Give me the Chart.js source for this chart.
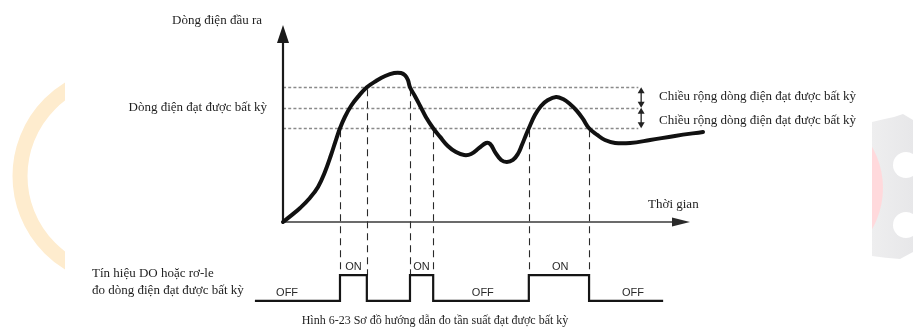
<!DOCTYPE html>
<html lang="vi">
<head>
<meta charset="utf-8">
<title>Hình 6-23</title>
<script src="https://cdn.jsdelivr.net/npm/chart.js@4/dist/chart.umd.min.js"></script>
<style>
  html, body { margin: 0; padding: 0; background: #ffffff; }
  canvas { display: block; }
</style>
</head>
<body>
<canvas id="chart" width="913" height="328"></canvas>
<script>
// Output current over time (time and current in arbitrary units)
const timeSteps = [0, 2.2, 4.2, 6.6, 8.6, 10.3, 11.8, 13.0, 14.0, 15.2, 16.7, 18.4, 20.6, 22.9, 25.1, 27.3,
  29.0, 30.0, 30.7, 31.2, 32.4, 33.7, 35.1, 36.9, 38.6, 40.5, 42.5, 44.5, 46.2, 48.2, 49.9, 50.9, 52.1,
  53.6, 55.0, 56.5, 57.7, 58.7, 59.7, 60.4, 61.9, 63.4, 65.1, 67.1, 68.8, 70.5, 72.2, 73.7, 75.2, 77.2,
  79.1, 81.6, 85.3, 90.2, 96.3, 103.2];
const outputCurrent = [0, 3.6, 7.1, 12.2, 17.8, 25.4, 34.0, 41.6, 47.6, 53.3, 58.9, 63.5, 68.4, 71.6, 74.1, 75.6,
  75.6, 74.4, 72.1, 68.4, 64.0, 58.9, 53.3, 47.6, 43.2, 38.6, 35.5, 34.0, 34.5, 37.6, 40.1, 39.6, 35.5,
  31.5, 30.5, 31.5, 34.5, 39.1, 44.2, 47.6, 54.3, 58.9, 61.9, 63.5, 62.4, 59.9, 56.4, 52.3, 47.6, 44.2,
  41.6, 40.1, 40.1, 41.6, 43.7, 45.7];

// Arbitrary reach current and its detection width
const reachLevel = 58;
const reachWidth = 10.4;

// Moments the output switches, and the band edge crossed at each moment
const switchTimes = [14.0, 20.6, 31.2, 36.9, 60.4, 75.2];
const switchEdges = [reachLevel - reachWidth, reachLevel + reachWidth, reachLevel + reachWidth,
  reachLevel - reachWidth, reachLevel - reachWidth, reachLevel - reachWidth];
const signalStart = -6.9;
const signalEnd = 93.4;
const signalOn = -27;
const signalOff = -40;

// State labels on the DO / relay trace
const stateLabels = ['OFF', 'ON', 'ON', 'OFF', 'ON', 'OFF'];
const stateLabelTimes = [1.0, 17.3, 34.0, 49.1, 68.1, 86.0];

// Texts
const yAxisTitle = 'Dòng điện đầu ra';
const xAxisTitle = 'Thời gian';
const reachLabel = 'Dòng điện đạt được bất kỳ';
const widthLabel = 'Chiều rộng dòng điện đạt được bất kỳ';
const signalLabel = ['Tín hiệu DO hoặc rơ-le', 'đo dòng điện đạt được bất kỳ'];
const caption = 'Hình 6-23 Sơ đồ hướng dẫn đo tần suất đạt được bất kỳ';

const widthArrowTime = 88.0;

// Build the point lists the library plots
const curvePoints = timeSteps.map((t, i) => ({ x: t, y: outputCurrent[i] }));
const signalPoints = [{ x: signalStart, y: signalOff }];
switchTimes.forEach((t, i) => signalPoints.push({ x: t, y: i % 2 === 0 ? signalOn : signalOff }));
signalPoints.push({ x: signalEnd, y: signalOff });

const SERIF = '"Liberation Serif", "Times New Roman", "DejaVu Serif", serif';
const SANS = '"Liberation Sans", Arial, "DejaVu Sans", sans-serif';

function drawLine(ctx, x1, y1, x2, y2) {
  ctx.beginPath();
  ctx.moveTo(x1, y1);
  ctx.lineTo(x2, y2);
  ctx.stroke();
}

function drawHead(ctx, tipX, tipY, dx, dy, len, half) {
  // filled triangle pointing in direction (dx, dy)
  const px = -dy, py = dx;
  ctx.beginPath();
  ctx.moveTo(tipX, tipY);
  ctx.lineTo(tipX - dx * len + px * half, tipY - dy * len + py * half);
  ctx.lineTo(tipX - dx * len - px * half, tipY - dy * len - py * half);
  ctx.closePath();
  ctx.fill();
}

const diagramPlugin = {
  id: 'diagram',
  beforeDraw(chart) {
    // faint company logo in the page background
    const ctx = chart.ctx;
    const W = chart.width;
    ctx.save();
    // orange ring on the left edge
    ctx.beginPath();
    ctx.rect(0, 0, 65, chart.height);
    ctx.clip();
    ctx.strokeStyle = '#feecce';
    ctx.lineWidth = 15;
    ctx.beginPath();
    ctx.arc(122, 176, 102, 0, Math.PI * 2);
    ctx.stroke();
    ctx.restore();

    // grey gear with a pink ring on the right edge
    ctx.save();
    ctx.beginPath();
    ctx.rect(872, 0, W - 872, chart.height);
    ctx.clip();
    const g = ctx.createLinearGradient(872, 0, W, 0);
    g.addColorStop(0, '#eeeeef');
    g.addColorStop(1, '#e7e7e9');
    ctx.fillStyle = g;
    ctx.beginPath();
    ctx.moveTo(872, 122);
    ctx.quadraticCurveTo(884, 119, 894, 117);
    ctx.lineTo(903, 114);
    ctx.lineTo(913, 120);
    ctx.lineTo(913, 252);
    ctx.lineTo(900, 259);
    ctx.quadraticCurveTo(885, 258, 872, 256);
    ctx.closePath();
    ctx.fill();
    ctx.fillStyle = '#ffffff';
    ctx.beginPath();
    ctx.arc(906, 165, 13, 0, Math.PI * 2);
    ctx.fill();
    ctx.beginPath();
    ctx.arc(906, 225, 13, 0, Math.PI * 2);
    ctx.fill();
    ctx.fillStyle = '#ffd9dc';
    ctx.beginPath();
    ctx.arc(800, 188, 83, 0, Math.PI * 2);
    ctx.fill();
    ctx.restore();
  },
  beforeDatasetsDraw(chart) {
    const ctx = chart.ctx;
    const xs = chart.scales.x, ys = chart.scales.y;
    const x0 = xs.getPixelForValue(0);
    const y0 = ys.getPixelForValue(0);
    const xEnd = xs.getPixelForValue(xs.max);
    const yTop = ys.getPixelForValue(ys.max);
    const bandEnd = xs.getPixelForValue(87.3);
    ctx.save();

    // dotted reach level and band edges
    ctx.strokeStyle = '#8a8a8a';
    ctx.lineWidth = 1.3;
    ctx.setLineDash([3, 2.2]);
    [reachLevel + reachWidth, reachLevel, reachLevel - reachWidth].forEach(v => {
      const y = Math.round(ys.getPixelForValue(v)) + 0.5;
      drawLine(ctx, x0, y, bandEnd, y);
    });

    // dashed drop lines from each crossing to the relay trace
    ctx.strokeStyle = '#2a2a2a';
    ctx.lineWidth = 1.1;
    ctx.setLineDash([7, 5]);
    const yOn = ys.getPixelForValue(signalOn);
    switchTimes.forEach((t, i) => {
      const x = Math.round(xs.getPixelForValue(t)) + 0.5;
      drawLine(ctx, x, ys.getPixelForValue(switchEdges[i]) + 2, x, yOn);
    });
    ctx.setLineDash([]);

    // axes with arrow heads
    ctx.strokeStyle = '#1a1a1a';
    ctx.fillStyle = '#1a1a1a';
    ctx.lineWidth = 2.2;
    drawLine(ctx, x0, y0 + 1, x0, yTop + 14);
    drawHead(ctx, x0, yTop, 0, -1, 18, 6);
    ctx.strokeStyle = '#3a3a3a';
    ctx.fillStyle = '#2a2a2a';
    ctx.lineWidth = 1.6;
    drawLine(ctx, x0, y0, xEnd - 14, y0);
    drawHead(ctx, xEnd, y0, 1, 0, 18, 4.5);

    // double arrows marking the band width
    ctx.strokeStyle = '#222';
    ctx.fillStyle = '#222';
    ctx.lineWidth = 1.3;
    const ax = xs.getPixelForValue(widthArrowTime);
    const yU = ys.getPixelForValue(reachLevel + reachWidth);
    const yM = ys.getPixelForValue(reachLevel);
    const yL = ys.getPixelForValue(reachLevel - reachWidth);
    [[yU, yM], [yM, yL]].forEach(([a, b]) => {
      drawLine(ctx, ax, a + 4, ax, b - 4);
      drawHead(ctx, ax, a, 0, -1, 6, 3.5);
      drawHead(ctx, ax, b, 0, 1, 6, 3.5);
    });
    ctx.restore();
  },
  afterDatasetsDraw(chart) {
    const ctx = chart.ctx;
    const xs = chart.scales.x, ys = chart.scales.y;
    const x0 = xs.getPixelForValue(0);
    ctx.save();
    ctx.fillStyle = '#1e1e1e';
    ctx.font = '13px ' + SERIF;
    ctx.textBaseline = 'middle';

    ctx.textAlign = 'right';
    ctx.fillText(yAxisTitle, x0 - 21, 21);
    ctx.fillText(reachLabel, x0 - 16, ys.getPixelForValue(reachLevel));

    ctx.textAlign = 'left';
    ctx.fillText(xAxisTitle, xs.getPixelForValue(89.7), 205);
    const tx = xs.getPixelForValue(92.4);
    ctx.fillText(widthLabel, tx, 97);
    ctx.fillText(widthLabel, tx, 121);

    ctx.fillText(signalLabel[0], 92, 274);
    ctx.fillText(signalLabel[1], 92, 291);

    ctx.textAlign = 'center';
    ctx.font = '12px ' + SERIF;
    ctx.fillText(caption, 435, 321);

    // relay states
    ctx.font = '11px ' + SANS;
    ctx.fillStyle = '#2a2a2a';
    stateLabels.forEach((s, i) => {
      const x = xs.getPixelForValue(stateLabelTimes[i]);
      const y = ys.getPixelForValue(s === 'ON' ? signalOn : signalOff) - 8;
      ctx.fillText(s, x, y);
    });
    ctx.restore();
  }
};

new Chart(document.getElementById('chart'), {
  type: 'line',
  data: {
    datasets: [
      {
        label: yAxisTitle,
        data: curvePoints,
        borderColor: '#111111',
        borderWidth: 4,
        pointRadius: 0,
        tension: 0.4,
        borderCapStyle: 'round',
        borderJoinStyle: 'round',
        fill: false,
        clip: false
      },
      {
        label: signalLabel[0],
        data: signalPoints,
        borderColor: '#151515',
        borderWidth: 2.2,
        pointRadius: 0,
        stepped: 'before',
        fill: false,
        clip: false
      }
    ]
  },
  options: {
    responsive: false,
    animation: false,
    devicePixelRatio: 1,
    layout: { padding: { left: 283, right: 223, top: 25, bottom: 106 } },
    plugins: { legend: { display: false }, tooltip: { enabled: false }, title: { display: false } },
    scales: {
      x: { type: 'linear', min: 0, max: 100, display: false },
      y: { type: 'linear', min: 0, max: 100, display: false }
    }
  },
  plugins: [diagramPlugin]
});
</script>
</body>
</html>
